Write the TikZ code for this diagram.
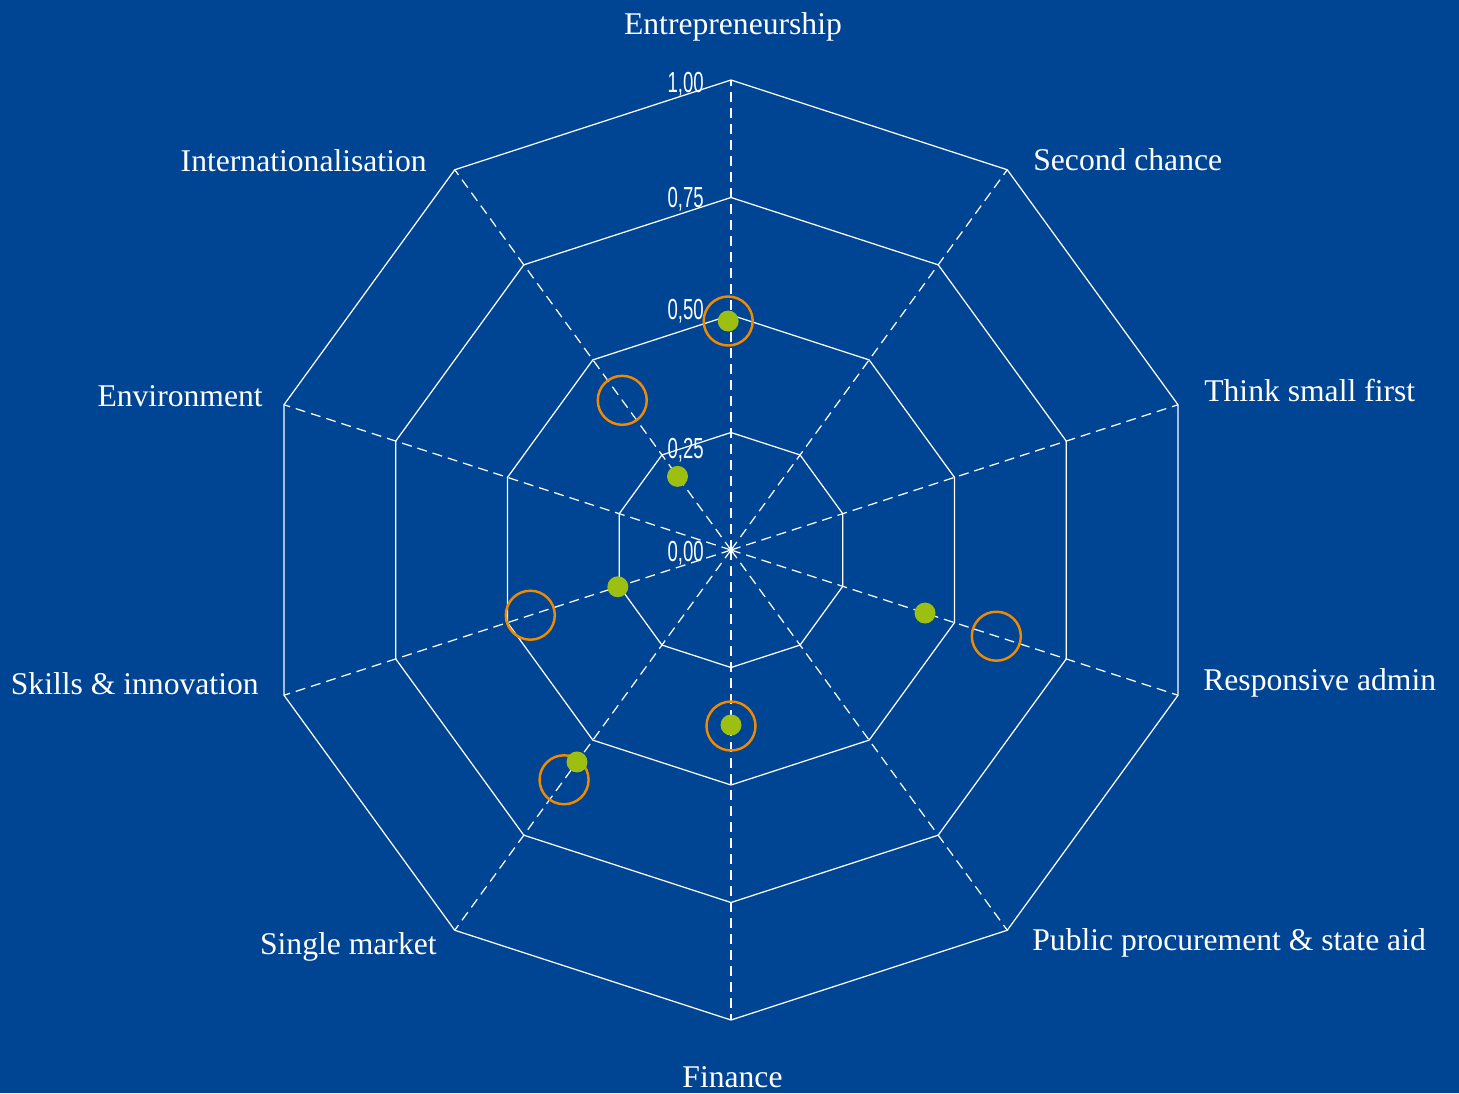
\documentclass[tikz,border=0pt]{standalone}
\usepackage{fontspec}
\setmainfont{Liberation Serif}
\newfontfamily\scalefont[FakeStretch=0.64]{Liberation Sans}
\definecolor{bgblue}{HTML}{004494}
\definecolor{dotgreen}{HTML}{9CBF12}
\definecolor{ringorange}{HTML}{F08A00}

\begin{document}
\begin{tikzpicture}[x=0.02cm, y=0.02cm, line join=bevel]
  \tikzstyle{ring}=[draw=white, line width=0.7pt]
  \tikzstyle{spoke}=[draw=white, line width=0.7pt, dash pattern=on 5.7pt off 3.4pt]
  \tikzstyle{axis_label}=[text=white, inner sep=0pt, font=\fontsize{18}{20}\selectfont]
  \tikzstyle{scale_label}=[text=white, inner sep=0pt, anchor=base east, font=\scalefont\fontsize{16.5}{18}\selectfont]
  \tikzstyle{score}=[circle, fill=dotgreen, minimum size=0.42cm, inner sep=0pt]
  \tikzstyle{target}=[circle, draw=ringorange, line width=1.4pt, minimum size=0.98cm, inner sep=0pt]

  % background
  \fill[bgblue] (-731,-543) rectangle (728,550);
  \useasboundingbox (-731,-543) rectangle (728,550);

  \coordinate (c) at (0,0);
  \foreach \i in {0,...,9} {
    \coordinate (a\i) at ({90-36*\i}:117.5);
    \coordinate (b\i) at ({90-36*\i}:235);
    \coordinate (d\i) at ({90-36*\i}:352.5);
    \coordinate (v\i) at ({90-36*\i}:470);
  }

  % spokes
  \foreach \i in {0,...,9}
    \path (c) edge[spoke] (v\i);

  % rings
  \foreach \r in {a,b,d,v}
    \draw[ring] (\r0) -- (\r1) -- (\r2) -- (\r3) -- (\r4) -- (\r5) -- (\r6) -- (\r7) -- (\r8) -- (\r9) -- cycle;

  % scale
  \node[scale_label] (s100) at (-27,458) {1,00};
  \node[scale_label] (s075) at (-27,343) {0,75};
  \node[scale_label] (s050) at (-27,231) {0,50};
  \node[scale_label] (s025) at (-27,92)  {0,25};
  \node[scale_label] (s000) at (-27,-11) {0,00};

  % axis labels
  \node[axis_label, anchor=base]      (entr) at (2,515)     {Entrepreneurship};
  \node[axis_label, anchor=base west] (sec)  at (302,380)   {Second chance};
  \node[axis_label, anchor=base west] (tsf)  at (473,149)   {Think small first};
  \node[axis_label, anchor=base west] (resp) at (472,-140)  {Responsive admin};
  \node[axis_label, anchor=base west] (pub)  at (301,-400)  {Public procurement \& state aid};
  \node[axis_label, anchor=base]      (fin)  at (1.5,-537)  {Finance};
  \node[axis_label, anchor=base east] (sing) at (-294,-404) {Single market};
  \node[axis_label, anchor=base east] (skil) at (-472,-144) {Skills \& innovation};
  \node[axis_label, anchor=base east] (env)  at (-468,144)  {Environment};
  \node[axis_label, anchor=base east] (intl) at (-304,379)  {Internationalisation};

  % targets
  \node[target] (t_entr) at (90.7:229) {};
  \node[target] (t_intl) at (126:185)  {};
  \node[target] (t_skil) at (198:211)  {};
  \node[target] (t_sing) at (234:284)  {};
  \node[target] (t_fin)  at (270:176)  {};
  \node[target] (t_resp) at (342:279)  {};

  % scores
  \node[score] (p_entr) at (90.7:229) {};
  \node[score] (p_intl) at (126:91)   {};
  \node[score] (p_skil) at (198:119)  {};
  \node[score] (p_sing) at (234:262)  {};
  \node[score] (p_fin)  at (270:175)  {};
  \node[score] (p_resp) at (342:204)  {};

\end{tikzpicture}
\end{document}
